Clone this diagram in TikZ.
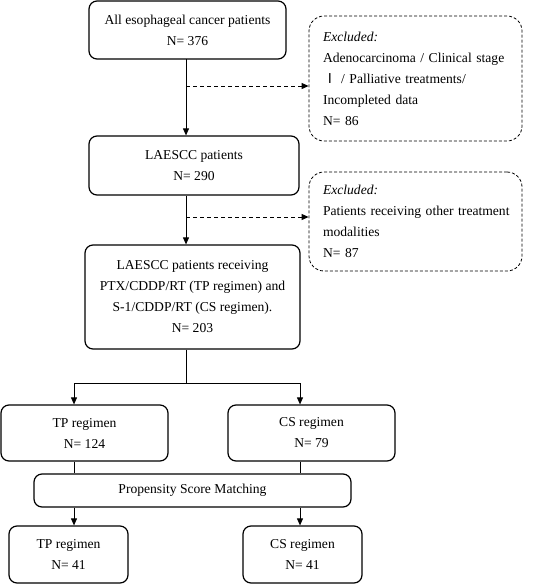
\documentclass[tikz,border=0pt]{standalone}
\usepackage{fontspec}
\setmainfont{Liberation Serif}
\newfontfamily\cjk{Noto Sans CJK SC}
\usetikzlibrary{arrows.meta,calc}
\begin{document}
\begin{tikzpicture}[x=1pt,y=-1pt,
  every node/.style={font=\fontsize{13.6}{21}\selectfont},
  solidbox/.style={draw,line width=1.2pt,rounded corners=8pt,align=center,inner sep=0pt},
  exbox/.style={draw,line width=0.8pt,dash pattern=on 3pt off 2pt,rounded corners=15pt,align=left,inner ysep=0pt,inner xsep=14pt,text width=185pt},
  arr/.style={line width=0.9pt,-{Triangle[length=7pt,width=6pt]}},
  ln/.style={line width=0.9pt},
  darr/.style={line width=0.9pt,dash pattern=on 4pt off 3pt,-{Triangle[length=7pt,width=6pt]}}]
\useasboundingbox (0,0) rectangle (550,584);
\node[solidbox,minimum width=197pt,minimum height=58pt] (b1) at (187.5,30) {All esophageal cancer patients\\N= 376};
\node[exbox,minimum height=125pt] (e1) at (415.5,78.5) {\textit{Excluded:}\\\mbox{Adenocarcinoma / Clinical stage}\\\mbox{{\cjk Ⅰ} / Palliative treatments/}\\Incompleted data\\N= 86};
\node[solidbox,minimum width=210pt,minimum height=59pt] (b2) at (194,165.5) {LAESCC patients\\N= 290};
\node[exbox,minimum height=99pt] (e2) at (415.5,221.5) {\textit{Excluded:}\\\mbox{Patients receiving other treatment}\\modalities\\N= 87};
\node[solidbox,minimum width=215pt,minimum height=104pt] (b3) at (192.5,297) {LAESCC patients receiving\\PTX/CDDP/RT (TP regimen) and\\S-1/CDDP/RT (CS regimen).\\N= 203};
\node[solidbox,minimum width=167pt,minimum height=56pt] (tp) at (84.5,433) {TP regimen\\N= 124};
\node[solidbox,minimum width=167pt,minimum height=56pt] (cs) at (311.5,433) {CS regimen\\N= 79};
\node[solidbox,minimum width=317pt,minimum height=33pt] (psm) at (192.5,490.5) {Propensity Score Matching};
\node[solidbox,minimum width=119pt,minimum height=57pt] (tp2) at (68.5,554.5) {TP regimen\\N= 41};
\node[solidbox,minimum width=119pt,minimum height=57pt] (cs2) at (302.5,554.5) {CS regimen\\N= 41};
\coordinate (t1) at (186,59);
\coordinate (j1) at (186,86);
\coordinate (j2) at (186,217);
\coordinate (m) at (186,383);
\coordinate (bl) at (74,383);
\coordinate (br) at (300,383);
\draw[arr] (t1) -- (t1 |- b2.north);
\draw[darr] (j1) -- (j1 -| e1.west);
\draw[arr] (j2 |- b2.south) -- (j2 |- b3.north);
\draw[darr] (j2) -- (j2 -| e2.west);
\draw[ln] (m |- b3.south) -- (m);
\draw[ln] (bl) -- (br);
\draw[arr] (bl) -- (bl |- tp.north);
\draw[arr] (br) -- (br |- cs.north);
\draw[ln] (bl |- tp.south) -- (bl |- psm.north);
\draw[ln] (br |- cs.south) -- (br |- psm.north);
\draw[arr] (bl |- psm.south) -- (bl |- tp2.north);
\draw[arr] (br |- psm.south) -- (br |- cs2.north);
\end{tikzpicture}
\end{document}
